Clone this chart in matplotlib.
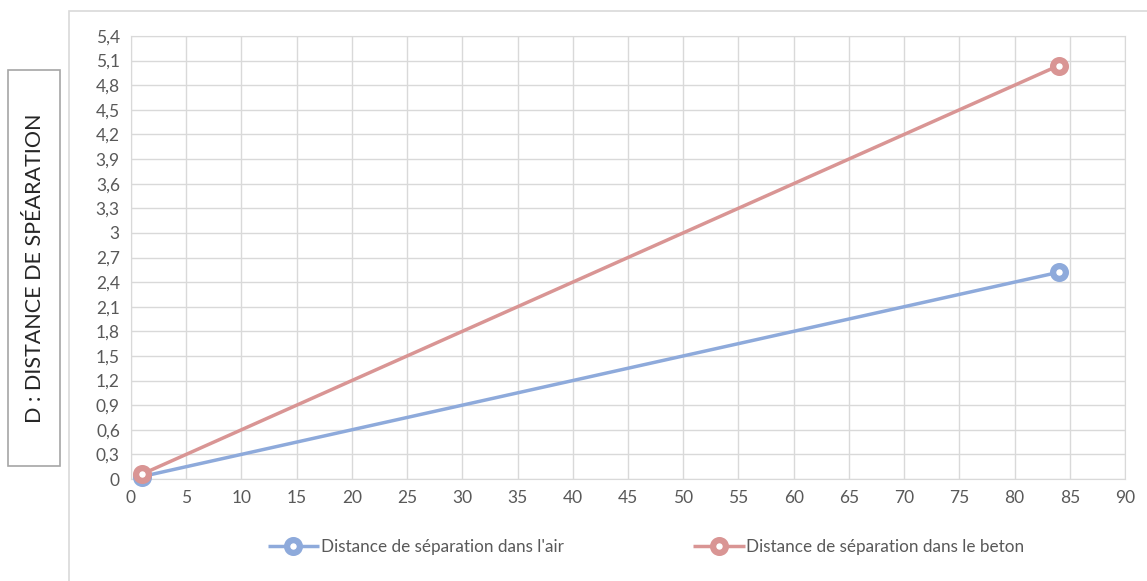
import numpy as np
import matplotlib.pyplot as plt
from matplotlib.patches import Rectangle

# data
x_air = [1, 84]
y_air = [0.03, 2.52]
x_beton = [1, 84]
y_beton = [0.06, 5.04]
labels = ["Distance de séparation dans l'air", "Distance de séparation dans le beton"]
colors = ["#8EAADB", "#D99594"]
y_ticks = np.round(np.arange(0, 5.41, 0.3), 1)
x_ticks = np.arange(0, 91, 5)

plt.rcParams['font.family'] = ['Lato', 'DejaVu Sans']

W, H = 1147, 581
fig = plt.figure(figsize=(W / 100, H / 100), dpi=100)

# plot area in pixels: left 131, right 1125, top 36, bottom 479
ax = fig.add_axes([131 / W, 1 - 479 / H, (1125 - 131) / W, (479 - 36) / H])

for xs, ys, c, lab in [(x_air, y_air, colors[0], labels[0]),
                       (x_beton, y_beton, colors[1], labels[1])]:
    ax.plot(xs, ys, color=c, lw=2.5, marker='o', ms=9.2, mew=4.5,
            mfc='white', mec=c, label=lab, solid_capstyle='butt', zorder=3,
            clip_on=False)

ax.set_xlim(0, 90)
ax.set_ylim(0, 5.4)
ax.set_xticks(x_ticks)
ax.set_yticks(y_ticks)
ax.set_yticklabels([('%g' % v).replace('.', ',') for v in y_ticks])
ax.grid(True, color='#D9D9D9', lw=1)
ax.set_axisbelow(True)
for s in ax.spines.values():
    s.set_color('#D9D9D9')
ax.tick_params(length=0, labelsize=12.5, colors='#595959', pad=8)

# outer chart frame
fig.patches.append(Rectangle((69 / W, -0.1), 1.2, 1 - 11 / H + 0.1,
                             transform=fig.transFigure, fill=False,
                             edgecolor='#D9D9D9', lw=1.2))

# y label in a box
fig.patches.append(Rectangle((8 / W, 1 - 466 / H), 52 / W, 396 / H,
                             transform=fig.transFigure, fill=False,
                             edgecolor='#A6A6A6', lw=1.2))
fig.text(35 / W, 1 - 268 / H, "D : DISTANCE DE SPÉARATION", rotation=90,
         ha='center', va='center', fontsize=15.5, color='#262626')

leg = fig.legend(loc='center', bbox_to_anchor=(646 / W, 1 - 547 / H), ncol=2,
                 frameon=False, fontsize=12.3, handlelength=3.0,
                 handletextpad=0.1, columnspacing=7.6)
for t in leg.get_texts():
    t.set_color('#595959')

fig.savefig('out.png', dpi=100)
